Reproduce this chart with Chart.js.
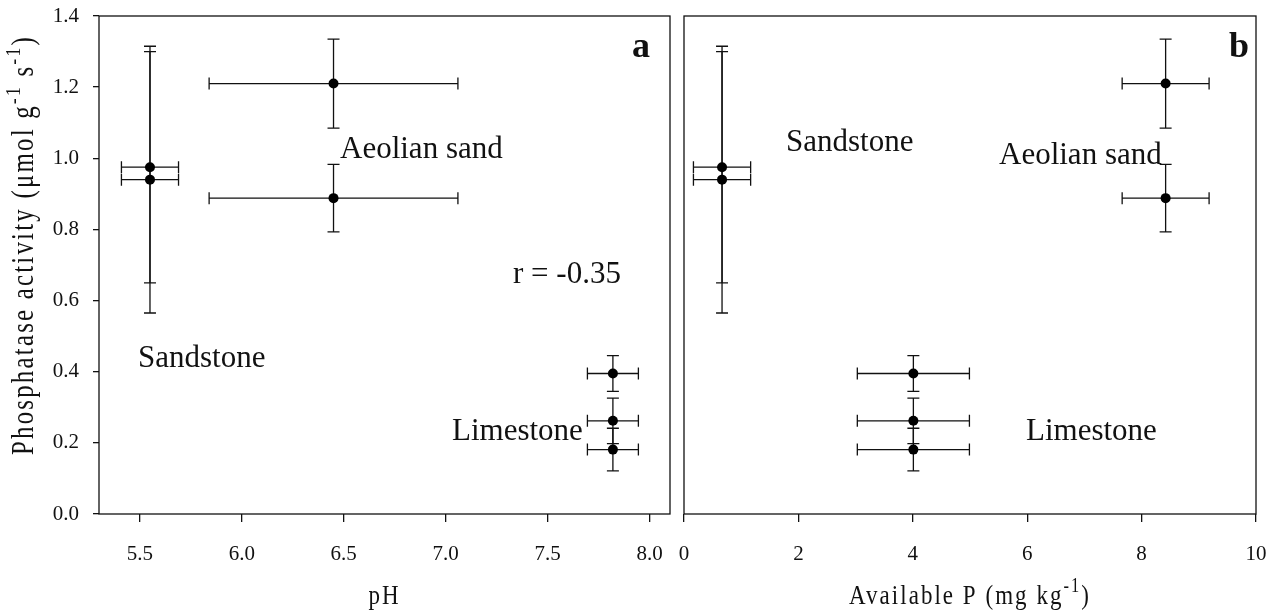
<!DOCTYPE html>
<html lang="en">
<head>
<meta charset="utf-8">
<title>Phosphatase activity vs pH and available P</title>
<script src="https://cdn.jsdelivr.net/npm/chart.js@4"></script>
<style>
  body{margin:0;background:#fff}
  #wrap{position:relative;width:1272px;height:613px}
  canvas{position:absolute;left:0;top:0}
</style>
</head>
<body>
<div id="wrap">
  <canvas id="panelA" width="1272" height="613"></canvas>
  <canvas id="panelB" width="1272" height="613"></canvas>
</div>
<script>
// ---------------- data ----------------
const groups      = ['Sandstone', 'Sandstone', 'Aeolian sand', 'Aeolian sand', 'Limestone', 'Limestone', 'Limestone'];
const activity    = [0.975, 0.94, 1.21, 0.888, 0.395, 0.262, 0.181];
const activityErr = [0.325, 0.375, 0.125, 0.095, 0.05, 0.064, 0.06];
const pH          = [5.55, 5.55, 6.45, 6.45, 7.82, 7.82, 7.82];
const pHErr       = [0.14, 0.14, 0.61, 0.61, 0.125, 0.125, 0.125];
const availP      = [0.665, 0.665, 8.42, 8.42, 4.01, 4.01, 4.01];
const availPErr   = [0.5, 0.5, 0.76, 0.76, 0.98, 0.98, 0.98];

const activityTicks = [0, 0.2, 0.4, 0.6, 0.8, 1.0, 1.2, 1.4];
const pHTicks       = [5.5, 6.0, 6.5, 7.0, 7.5, 8.0];
const availPTicks   = [0, 2, 4, 6, 8, 10];
// -------------------------------------------------------------

const SERIF = "'Liberation Serif', 'Times New Roman', serif";
const INK = '#111';

// text with superscripts, squeezed horizontally like the original
function drawRich(ctx, parts, o) {
  ctx.save();
  ctx.fillStyle = INK;
  ctx.letterSpacing = (o.spacing || 0) + 'px';
  const supSize = Math.round(o.size * 0.7);
  const widthOf = (p) => {
    ctx.font = (p.sup ? supSize : o.size) + 'px ' + SERIF;
    return ctx.measureText(p.t).width;
  };
  const total = parts.reduce((s, p) => s + widthOf(p), 0);
  ctx.translate(o.x, o.y);
  if (o.rotate) ctx.rotate(-Math.PI / 2);
  ctx.scale(o.sx || 1, 1);
  let x = -total / 2;
  ctx.textBaseline = 'alphabetic';
  ctx.textAlign = 'left';
  for (const p of parts) {
    ctx.font = (p.sup ? supSize : o.size) + 'px ' + SERIF;
    ctx.fillText(p.t, x, p.sup ? -o.size * 0.42 : 0);
    x += ctx.measureText(p.t).width;
  }
  ctx.restore();
}

function makeDecor(cfg) {
  return {
    id: 'decor',
    beforeDatasetsDraw(chart) {
      const { ctx } = chart;
      const xs = chart.scales.x, ys = chart.scales.y;
      const cap = 6;
      ctx.save();
      ctx.strokeStyle = INK;
      ctx.lineWidth = 1.3;
      cfg.xVals.forEach((xv, i) => {
        const px = xs.getPixelForValue(xv);
        const py = ys.getPixelForValue(activity[i]);
        const x0 = xs.getPixelForValue(xv - cfg.xErr[i]);
        const x1 = xs.getPixelForValue(xv + cfg.xErr[i]);
        const y0 = ys.getPixelForValue(activity[i] - activityErr[i]);
        const y1 = ys.getPixelForValue(activity[i] + activityErr[i]);
        ctx.beginPath();
        ctx.moveTo(x0, py); ctx.lineTo(x1, py);
        ctx.moveTo(x0, py - cap); ctx.lineTo(x0, py + cap);
        ctx.moveTo(x1, py - cap); ctx.lineTo(x1, py + cap);
        ctx.moveTo(px, y0); ctx.lineTo(px, y1);
        ctx.moveTo(px - cap, y0); ctx.lineTo(px + cap, y0);
        ctx.moveTo(px - cap, y1); ctx.lineTo(px + cap, y1);
        ctx.stroke();
      });
      ctx.restore();
    },
    afterDraw(chart) {
      const { ctx, chartArea: a } = chart;
      ctx.save();
      ctx.strokeStyle = INK;
      ctx.lineWidth = 1.3;
      ctx.strokeRect(a.left, a.top, a.right - a.left, a.bottom - a.top);
      ctx.fillStyle = INK;
      ctx.textBaseline = 'alphabetic';
      ctx.font = 'bold 36px ' + SERIF;
      ctx.textAlign = 'right';
      ctx.fillText(cfg.letter, cfg.letterX, 57);
      ctx.font = '31px ' + SERIF;
      ctx.textAlign = 'left';
      cfg.notes.forEach(n => ctx.fillText(n[0], n[1], n[2]));
      ctx.restore();
      drawRich(ctx, cfg.xTitle, { x: (a.left + a.right) / 2, y: 604, size: 28, sx: 0.82, spacing: 2.5 });
      if (cfg.yTitle) drawRich(ctx, cfg.yTitle, { x: 33, y: 245, size: 31, sx: 0.8, spacing: 2.8, rotate: true });
    }
  };
}

const tickFont = { family: SERIF, size: 21 };
const noOverhang = s => { s.paddingLeft = 0; s.paddingRight = 0; s.paddingTop = 0; s.paddingBottom = 0; };

function panel(id, xVals, xMin, xMax, xTicks, xFmt, showY, padding, decor) {
  return new Chart(document.getElementById(id), {
    type: 'scatter',
    data: {
      datasets: [{
        data: xVals.map((x, i) => ({ x, y: activity[i], g: groups[i] })),
        pointRadius: 5,
        pointHoverRadius: 5,
        backgroundColor: '#000',
        borderWidth: 0
      }]
    },
    options: {
      responsive: false,
      animation: false,
      devicePixelRatio: 1,
      events: [],
      layout: { padding },
      plugins: { legend: { display: false }, tooltip: { enabled: false } },
      scales: {
        x: {
          type: 'linear', min: xMin, max: xMax,
          afterBuildTicks: s => { s.ticks = xTicks.map(v => ({ value: v })); },
          afterFit: s => { s.height = 99; noOverhang(s); },
          border: { display: false },
          grid: { drawOnChartArea: false, drawTicks: true, tickLength: 8, color: INK, lineWidth: 1.3 },
          ticks: { font: tickFont, color: INK, padding: 20, maxRotation: 0, callback: xFmt }
        },
        y: {
          type: 'linear', min: 0, max: 1.4, display: showY,
          afterBuildTicks: s => { s.ticks = activityTicks.map(v => ({ value: v })); },
          afterFit: s => { s.width = showY ? 99 : 0; noOverhang(s); },
          border: { display: false },
          grid: { drawOnChartArea: false, drawTicks: true, tickLength: 6, color: INK, lineWidth: 1.3 },
          ticks: { font: tickFont, color: INK, padding: 14, callback: v => v.toFixed(1) }
        }
      }
    },
    plugins: [decor]
  });
}

panel('panelA', pH, 5.3, 8.1, pHTicks, v => v.toFixed(1), true,
  { left: 0, right: 602, top: 16, bottom: 0 },
  makeDecor({
    xVals: pH, xErr: pHErr, letter: 'a', letterX: 650,
    notes: [['Aeolian sand', 340, 158], ['r = -0.35', 513, 283], ['Sandstone', 138, 367], ['Limestone', 452, 440]],
    xTitle: [{ t: 'pH' }],
    yTitle: [{ t: 'Phosphatase activity (\u03bcmol g' }, { t: '-1', sup: true }, { t: ' s' }, { t: '-1', sup: true }, { t: ')' }]
  }));

panel('panelB', availP, 0, 10, availPTicks, v => String(v), false,
  { left: 684, right: 16, top: 16, bottom: 0 },
  makeDecor({
    xVals: availP, xErr: availPErr, letter: 'b', letterX: 1249,
    notes: [['Sandstone', 786, 151], ['Aeolian sand', 999, 164], ['Limestone', 1026, 440]],
    xTitle: [{ t: 'Available P (mg kg' }, { t: '-1', sup: true }, { t: ')' }]
  }));
</script>
</body>
</html>
